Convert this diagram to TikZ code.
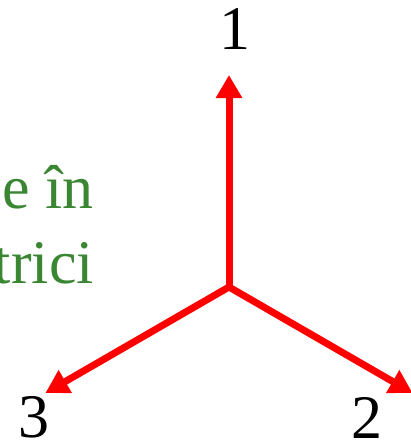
\documentclass[tikz,border=0pt]{standalone}
\usepackage{fontspec}
\setmainfont{Liberation Serif}
\usetikzlibrary{arrows.meta}
\definecolor{txtgreen}{RGB}{58,134,50}
\definecolor{arrred}{RGB}{255,0,0}
\tikzset{
  axisarrow/.style={draw=arrred, line width=7pt, -{Triangle[length=23pt,width=25pt]}},
  digit/.style={anchor=base, inner sep=0pt, font=\fontsize{62}{62}\selectfont},
  greentxt/.style={anchor=base east, inner sep=0pt, text=txtgreen, font=\fontsize{62}{70}\selectfont}
}
\begin{document}
\begin{tikzpicture}[x=1pt,y=-1pt]
\useasboundingbox (0,0) rectangle (410,444);
\coordinate (c) at (229,287);
\path (c) ++(0,-212) coordinate (t1);
\path (c) ++(-183.6,106) coordinate (t3);
\path (c) ++(183.6,106) coordinate (t2);
\draw[axisarrow] (c) -- (t1);
\draw[axisarrow] (c) -- (t2);
\draw[axisarrow] (c) -- (t3);
\node[digit] (n1) at (235,50) {1};
\node[digit] (n3) at (34,437) {3};
\node[digit] (n2) at (367,438) {2};
\begin{scope}
\clip (0,0) rectangle (410,444);
\node[greentxt] (g1) at (94,208) {e în};
\node[greentxt] (g2) at (94,283) {trici};
\end{scope}
\end{tikzpicture}
\end{document}
